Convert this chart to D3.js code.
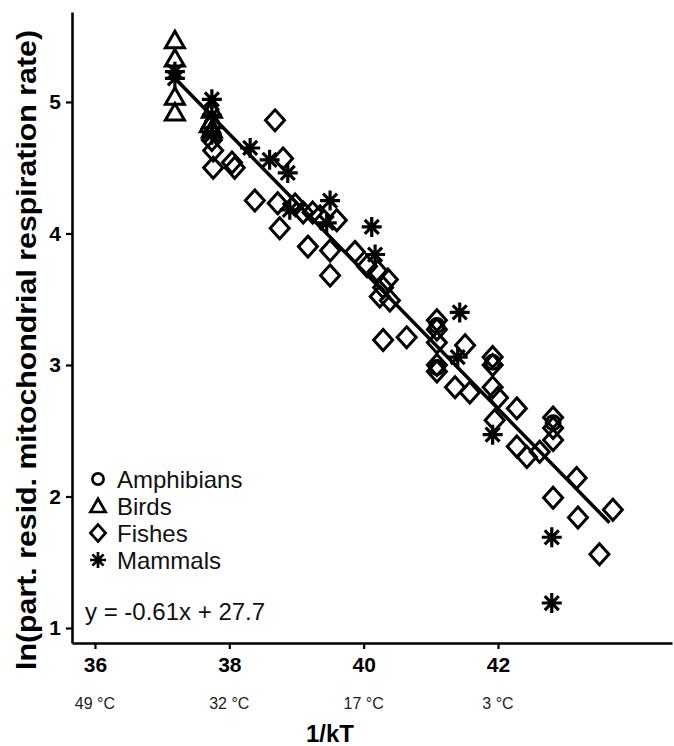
<!DOCTYPE html>
<html>
<head>
<meta charset="utf-8">
<script src="https://cdn.jsdelivr.net/npm/d3@7"></script>
<style>
  body { margin: 0; background: #fff; }
  svg { display: block; }
  text { font-family: "Liberation Sans", Arial, sans-serif; }
</style>
</head>
<body>
<div id="chart"></div>
<script>
// ----------------------
// Data: [1/kT, ln rate]
// ----------------------
const amphibians = [[41.09, 3.30], [41.09, 2.98], [41.92, 3.02], [42.82, 2.56]];

const birds = [
    [37.19, 5.47], [37.19, 5.33], [37.19, 5.04], [37.19, 4.92],
    [37.74, 4.94], [37.74, 4.86], [37.74, 4.79], [37.71, 4.83]
];

const fishes = [
    [37.74, 4.71], [37.76, 4.63], [37.76, 4.50], [38.04, 4.54], [38.08, 4.50],
    [38.68, 4.86], [38.80, 4.57], [38.38, 4.25], [38.72, 4.23], [38.75, 4.04],
    [38.98, 4.22], [39.10, 4.16], [39.24, 4.16], [39.35, 4.13], [39.60, 4.10],
    [39.17, 3.90], [39.50, 3.87], [39.50, 3.68], [39.87, 3.86], [40.05, 3.75],
    [40.21, 3.71], [40.36, 3.65], [40.24, 3.52], [40.39, 3.49], [40.29, 3.59],
    [40.29, 3.19], [40.64, 3.21], [41.09, 3.34], [41.09, 3.27], [41.09, 3.17],
    [41.51, 3.15], [41.09, 3.00], [41.09, 2.95], [41.36, 2.83], [41.58, 2.79],
    [41.92, 3.06], [41.92, 3.00], [41.92, 2.83], [42.00, 2.75], [41.95, 2.58],
    [42.28, 2.67], [42.28, 2.38], [42.43, 2.30], [42.62, 2.34], [42.82, 2.60],
    [42.82, 2.52], [42.82, 2.43], [43.17, 2.14], [42.82, 1.99], [43.19, 1.84],
    [43.71, 1.90], [43.51, 1.56]
];

const mammals = [
    [37.19, 5.23], [37.19, 5.18], [37.74, 5.02], [37.74, 4.90], [37.74, 4.75],
    [38.31, 4.65], [38.60, 4.56], [38.87, 4.46], [38.90, 4.18], [39.50, 4.25],
    [39.45, 4.08], [40.12, 4.05], [40.17, 3.84], [41.43, 3.40], [41.40, 3.06],
    [41.92, 2.47], [42.80, 1.69], [42.80, 1.19]
];

// fitted line as drawn
const fitX = [37.19, 43.66];
const fitY = [5.18, 1.80];

const xTicks = [36, 38, 40, 42];
const tempLabels = ["49 \u00B0C", "32 \u00B0C", "17 \u00B0C", "3 \u00B0C"];
const yTicks = [1, 2, 3, 4, 5];
const groupNames = ["Amphibians", "Birds", "Fishes", "Mammals"];

// ----------------------
// Setup
// ----------------------
const width = 674;
const height = 746;

const svg = d3.select("#chart")
    .append("svg")
    .attr("width", width)
    .attr("height", height);

const x = d3.scaleLinear().domain([35.658, 44.59]).range([72, 672]);
const y = d3.scaleLinear().domain([0.886, 5.684]).range([643, 12]);

// marker shapes
const shapes = {
    Amphibians: "M7,0A7,7 0 1,1 -7,0A7,7 0 1,1 7,0Z",
    Birds: "M0,-9L9.5,7.5L-9.5,7.5Z",
    Fishes: "M0,-10.5L9.5,0L0,10.5L-9.5,0Z",
    Mammals: "M-10,0H10M0,-10V10M-7,-7L7,7M-7,7L7,-7"
};

function drawGroup(data, name) {
    svg.append("g")
        .selectAll("path")
        .data(data)
        .enter()
        .append("path")
        .attr("d", shapes[name])
        .attr("transform", d => `translate(${x(d[0])},${y(d[1])})`)
        .attr("fill", "none")
        .attr("stroke", "#000")
        .attr("stroke-width", name === "Mammals" ? 3.2 : 3)
        .attr("stroke-linejoin", "miter");
}

drawGroup(fishes, "Fishes");
drawGroup(amphibians, "Amphibians");
drawGroup(birds, "Birds");
drawGroup(mammals, "Mammals");

// regression line
svg.append("path")
    .datum(d3.zip(fitX, fitY))
    .attr("d", d3.line().x(d => x(d[0])).y(d => y(d[1])))
    .attr("fill", "none")
    .attr("stroke", "#000")
    .attr("stroke-width", 3.5);

// ----------------------
// Axes
// ----------------------
const yAxis = svg.append("g")
    .attr("transform", "translate(72,0)")
    .call(d3.axisLeft(y).tickValues(yTicks).tickFormat(d3.format("d"))
        .tickSize(6).tickSizeOuter(0).tickPadding(5));

const xAxis = svg.append("g")
    .attr("transform", "translate(0,643)")
    .call(d3.axisBottom(x).tickValues(xTicks).tickFormat(d3.format("d"))
        .tickSize(6).tickSizeOuter(0).tickPadding(8));

[yAxis, xAxis].forEach(a => {
    a.select(".domain").attr("stroke", "#000").attr("stroke-width", 2.6);
    a.selectAll(".tick line").attr("stroke", "#000").attr("stroke-width", 2.2);
    a.selectAll(".tick text")
        .attr("fill", "#000")
        .style("font-family", "'Liberation Sans', Arial, sans-serif")
        .style("font-size", "21px")
        .style("font-weight", "bold");
});

// temperature labels under ticks
svg.append("g")
    .selectAll("text")
    .data(xTicks)
    .enter()
    .append("text")
    .attr("x", d => x(d))
    .attr("y", 703)
    .attr("text-anchor", "middle")
    .attr("dominant-baseline", "central")
    .style("font-size", "16px")
    .attr("fill", "#222")
    .text((d, i) => tempLabels[i]);

// axis titles
svg.append("text")
    .attr("x", 330)
    .attr("y", 733)
    .attr("text-anchor", "middle")
    .attr("dominant-baseline", "central")
    .style("font-size", "24px")
    .style("font-weight", "bold")
    .text("1/kT");

svg.append("text")
    .attr("transform", "translate(27,350) rotate(-90)")
    .attr("text-anchor", "middle")
    .attr("dominant-baseline", "central")
    .attr("textLength", 640)
    .attr("lengthAdjust", "spacingAndGlyphs")
    .style("font-size", "27px")
    .style("font-weight", "bold")
    .text("ln(part. resid. mitochondrial respiration rate)");

// ----------------------
// Legend + equation
// ----------------------
const legend = svg.append("g")
    .selectAll("g")
    .data(groupNames)
    .enter()
    .append("g")
    .attr("transform", (d, i) => `translate(98,${479 + i * 27})`);

legend.append("path")
    .attr("d", d => shapes[d])
    .attr("transform", "scale(0.8)")
    .attr("fill", "none")
    .attr("stroke", "#000")
    .attr("stroke-width", 3.4);

legend.append("text")
    .attr("x", 19)
    .attr("y", 0)
    .attr("dominant-baseline", "central")
    .style("font-size", "24px")
    .attr("fill", "#111")
    .text(d => d);

svg.append("text")
    .attr("x", 85)
    .attr("y", 611)
    .attr("dominant-baseline", "central")
    .style("font-size", "24px")
    .attr("fill", "#111")
    .text("y = -0.61x + 27.7");
</script>
</body>
</html>
